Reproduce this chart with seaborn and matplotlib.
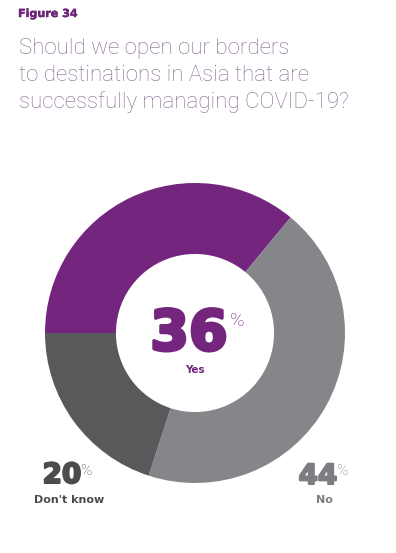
import matplotlib.pyplot as plt
import matplotlib.patheffects as pe
import seaborn as sns

# survey answers
labels = ['Yes', 'No', "Don't know"]
shares = [36, 44, 20]
colors = ['#74267F', '#858689', '#58595B']

sns.set_theme(style='white')
plt.rcParams['font.family'] = ['DejaVu Sans']

W, H = 396, 553
fig = plt.figure(figsize=(W / 100, H / 100), dpi=100)
fig.patch.set_facecolor('white')


def fx(px):
    return px / W


def fy(py):
    return 1 - py / H


def heavy(c, lw):
    return [pe.withStroke(linewidth=lw, foreground=c)]


# donut: centre (195, 333), radius 150 px
cx, cy, r = 195, 333, 150
ax = fig.add_axes([fx(cx - r), fy(cy + r), 2 * r / W, 2 * r / H])
ax.pie(shares, colors=colors, startangle=180, counterclock=False,
       wedgeprops=dict(width=0.473, linewidth=0), radius=1)
ax.set_xlim(-1, 1)
ax.set_ylim(-1, 1)
ax.set_aspect('equal')
ax.axis('off')

# header
fig.text(fx(18), fy(17), 'Figure 34', fontsize=8, fontweight='bold',
         color='#6B2477', va='baseline', path_effects=heavy('#6B2477', 0.3))
title_lines = ['Should we open our borders',
               'to destinations in Asia that are',
               'successfully managing COVID-19?']
for i, line in enumerate(title_lines):
    fig.text(fx(19), fy(54 + i * 27), line, fontsize=16, family=['Roboto', 'DejaVu Sans'],
             fontweight='light', color='#86698F', va='baseline')

# centre label (Yes)
fig.text(fx(189), fy(350), f'{shares[0]}', fontsize=40, fontweight='heavy',
         color=colors[0], ha='center', va='baseline', path_effects=heavy(colors[0], 2.5))
fig.text(fx(230), fy(326), '%', fontsize=14, family=['Roboto', 'DejaVu Sans'],
         fontweight='light', color=colors[0], ha='left', va='baseline')
fig.text(fx(195), fy(373), labels[0], fontsize=7.5, fontweight='bold',
         color=colors[0], ha='center', va='baseline')

# Don't know
fig.text(fx(62), fy(483), f'{shares[2]}', fontsize=20, fontweight='heavy',
         color='#4B4C4E', ha='center', va='baseline', path_effects=heavy('#4B4C4E', 1.5))
fig.text(fx(80), fy(475), '%', fontsize=11, family=['Roboto', 'DejaVu Sans'],
         fontweight='light', color='#4B4C4E', ha='left', va='baseline')
fig.text(fx(69), fy(503), labels[2], fontsize=8, fontweight='bold',
         color='#4B4C4E', ha='center', va='baseline')

# No
fig.text(fx(318), fy(484), f'{shares[1]}', fontsize=20, fontweight='heavy',
         color='#7B7D80', ha='center', va='baseline', path_effects=heavy('#7B7D80', 1.5))
fig.text(fx(336), fy(475), '%', fontsize=11, family=['Roboto', 'DejaVu Sans'],
         fontweight='light', color='#7B7D80', ha='left', va='baseline')
fig.text(fx(324), fy(503), labels[1], fontsize=8, fontweight='bold',
         color='#7B7D80', ha='center', va='baseline')

fig.savefig('out.png', dpi=100)
